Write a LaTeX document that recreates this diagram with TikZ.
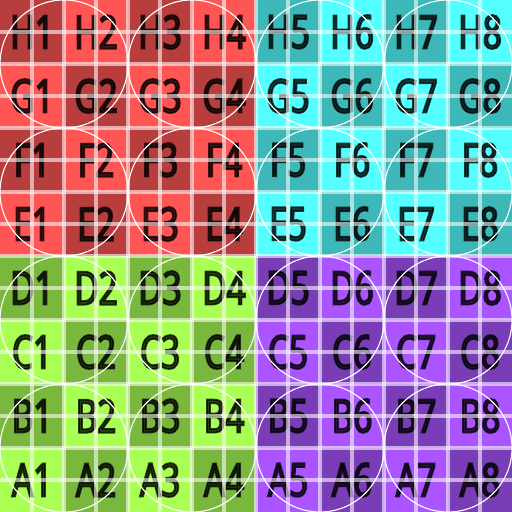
\documentclass[tikz,border=0pt]{standalone}
\usepackage{fontspec}
\usepackage{xcolor}
\newfontfamily\cellfont[FakeStretch=0.72, FakeBold=4]{Noto Sans}
\definecolor{quadgreen}{HTML}{AAFF55}
\definecolor{quadpurple}{HTML}{AA55FF}
\definecolor{quadred}{HTML}{FF5555}
\definecolor{quadcyan}{HTML}{55FFFF}

\begin{document}
\begin{tikzpicture}[
  x=1cm,
  y=1cm,
  cell label/.style={font=\cellfont\fontsize{20.5}{20.5}\selectfont,
    text=black, opacity=0.75, text opacity=0.75, inner sep=0pt},
  dark cell/.style={black, fill opacity=0.28},
  grid line/.style={white, opacity=0.58, line width=1.4pt},
  ring/.style={white, line width=0.5pt}
]
  % ---- fixed frame: 8 x 8 cells ----------------------------------------
  \useasboundingbox (0,0) rectangle (8,8);

  % ---- four coloured quadrants -----------------------------------------
  \fill[quadgreen]  (0,0) rectangle (4,4);
  \fill[quadpurple] (4,0) rectangle (8,4);
  \fill[quadred]    (0,4) rectangle (4,8);
  \fill[quadcyan]   (4,4) rectangle (8,8);

  % ---- darker cells of the checkerboard --------------------------------
  \foreach \r in {1,3,5,7} {
    \foreach \c in {2,4,6,8} {
      \fill[dark cell] (\c-1,\r-1) rectangle (\c,\r);
    }
  }
  \foreach \r in {2,4,6,8} {
    \foreach \c in {1,3,5,7} {
      \fill[dark cell] (\c-1,\r-1) rectangle (\c,\r);
    }
  }

  % ---- cell names ------------------------------------------------------
  \foreach \r/\rowname in {1/A,2/B,3/C,4/D,5/E,6/F,7/G,8/H} {
    \foreach \c in {1,...,8} {
      \node[cell label] (\rowname\c) at (\c-0.5,\r-0.5) {\rowname\c};
    }
  }

  % ---- half-cell grid --------------------------------------------------
  \foreach \k in {0.5,1,...,7.5} {
    \draw[grid line] (\k,0) -- (\k,8);
    \draw[grid line] (0,\k) -- (8,\k);
  }

  % ---- one ring per 2 x 2 block ----------------------------------------
  \foreach \i in {1,3,5,7} {
    \foreach \j in {1,3,5,7} {
      \draw[ring] (\i,\j) circle (1);
    }
  }
\end{tikzpicture}
\end{document}
